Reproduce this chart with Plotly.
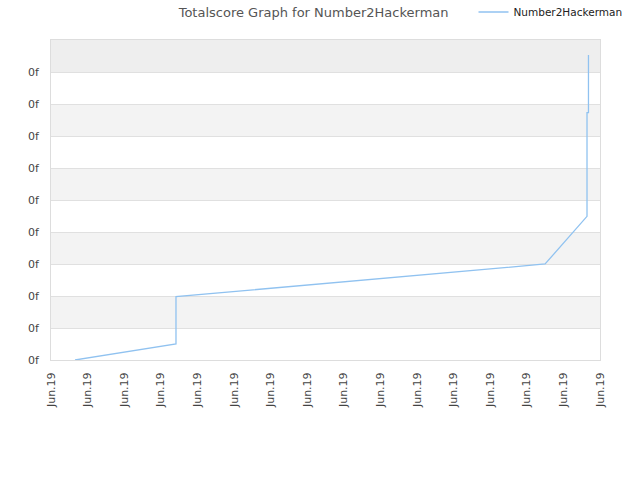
import plotly.graph_objects as go

# data (x in tick-units, y in grid-units)
x_vals = [0.656, 3.415, 3.415, 13.5, 14.645, 14.645, 14.685, 14.685]
y_vals = [0.0, 0.5, 1.98, 3.0, 4.49, 7.73, 7.73, 9.53]
x_ticks = list(range(16))
x_labels = ["Jun.19"] * 16
y_ticks = list(range(10))
y_labels = ["0f"] * 10
series_name = "Number2Hackerman"

fig = go.Figure()
fig.add_trace(go.Scatter(x=x_vals, y=y_vals, mode="lines", name=series_name,
                         line=dict(color="#90c2f0", width=1.3), showlegend=True))

shapes = []
for i in range(1, 10, 2):
    shapes.append(dict(type="rect", xref="paper", yref="y", x0=0, x1=1, y0=i, y1=i + 1,
                       fillcolor="#eeeeee" if i == 9 else "#f3f3f3", line=dict(width=0), layer="below"))

fig.update_layout(
    width=640, height=480,
    margin=dict(l=51, r=40, t=40, b=120, autoexpand=False),
    paper_bgcolor="white", plot_bgcolor="white",
    shapes=shapes,
    title=dict(text="Totalscore Graph for Number2Hackerman", x=0.49, xanchor="center", y=0.975, yanchor="middle",
               font=dict(family="DejaVu Sans", size=13, color="#555555")),
    legend=dict(x=0.7696, y=1.0875, xanchor="left", yanchor="middle", orientation="h",
                font=dict(family="DejaVu Sans", size=10.5, color="#222222"), bgcolor="rgba(0,0,0,0)",
                itemwidth=30),
    font=dict(family="DejaVu Sans", size=11, color="#444444"),
    xaxis=dict(range=[0, 15], tickvals=x_ticks, ticktext=x_labels, tickangle=-90,
               showgrid=False, zeroline=False, showline=True, linecolor="#dddddd", mirror=True,
               ticks="", ticklabelstandoff=7, tickfont=dict(size=11, color="#444444")),
    yaxis=dict(range=[0, 10], tickvals=y_ticks, ticktext=y_labels, showgrid=True, gridcolor="#e0e0e0",
               zeroline=False, showline=True, linecolor="#dddddd", mirror=True, ticks="",
               ticklabelstandoff=9, tickfont=dict(size=11, color="#444444")),
)
fig.write_html("out.html")
